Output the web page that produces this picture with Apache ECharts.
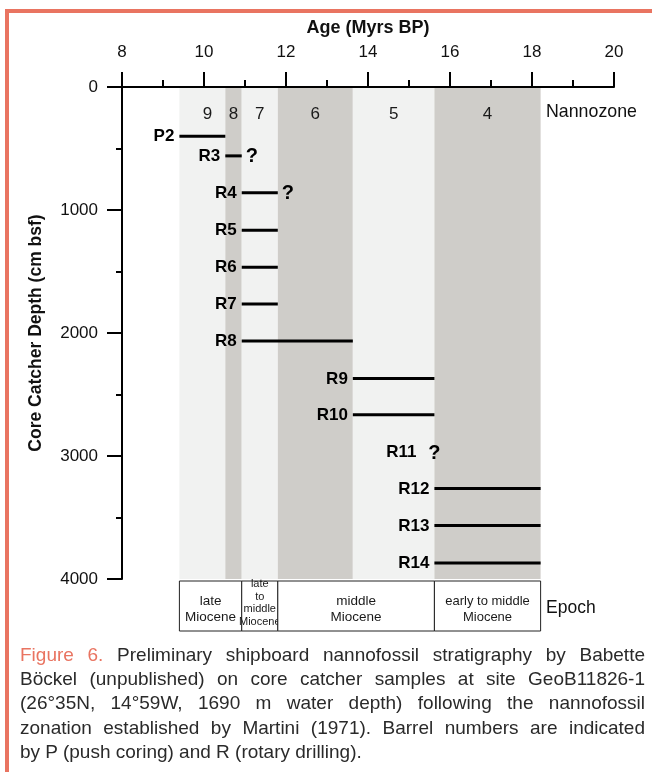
<!DOCTYPE html>
<html>
<head>
<meta charset="utf-8">
<script src="https://cdn.jsdelivr.net/npm/echarts@6/dist/echarts.min.js"></script>
<style>
  html, body { margin: 0; padding: 0; background: #fff; }
  #wrap { position: relative; width: 652px; height: 772px; overflow: hidden; }
  #frame { position: absolute; left: 5px; top: 9px; width: 700px; height: 800px;
           border-top: 4px solid #E97461; border-left: 4px solid #E97461; }
  #chart { position: absolute; left: 0; top: 0; width: 652px; height: 772px; }
  #cap { position: absolute; left: 20px; top: 643px; width: 625px;
         font: 19px "Liberation Sans", Arial, sans-serif; line-height: 24.2px; color: #2a2a2a; }
  #cap .ln { text-align: justify; text-align-last: justify; }
  #cap .fig { color: #E97461; }
</style>
</head>
<body>
<div id="wrap">
  <div id="frame"></div>
  <div id="chart"></div>
  <div id="cap">
    <div class="ln"><span class="fig">Figure 6.</span> Preliminary shipboard nannofossil stratigraphy by Babette</div>
    <div class="ln">Böckel (unpublished) on core catcher samples at site GeoB11826-1</div>
    <div class="ln">(26°35N, 14°59W, 1690 m water depth) following the nannofossil</div>
    <div class="ln">zonation established by Martini (1971). Barrel numbers are indicated</div>
    <div>by P (push coring) and R (rotary drilling).</div>
  </div>
</div>
<script>
// nannozones (Martini 1971), boundaries in Myrs BP
var zoneNames = ["9", "8", "7", "6", "5", "4"];
var zoneBounds = [9.4, 10.52, 10.92, 11.8, 13.63, 15.62, 18.21];

// epochs below the chart
var epochNames = ["late\nMiocene", "late\nto\nmiddle\nMiocene", "middle\nMiocene", "early to middle\nMiocene"];
var epochBounds = [9.4, 10.92, 11.8, 15.62, 18.21];

// core catcher samples
var samples = ["P2", "R3", "R4", "R5", "R6", "R7", "R8", "R9", "R10", "R11", "R12", "R13", "R14"];
var depths = [400, 560, 860, 1165, 1465, 1765, 2065, 2370, 2665, 2970, 3265, 3565, 3870];
var ageFrom = [9.4, 10.52, 10.92, 10.92, 10.92, 10.92, 10.92, 13.63, 13.63, 15.62, 15.62, 15.62, 15.62];
var ageTo = [10.52, 10.92, 11.8, 11.8, 11.8, 11.8, 13.63, 15.62, 15.62, 15.62, 18.21, 18.21, 18.21];
var uncertain = [false, true, true, false, false, false, false, false, false, true, false, false, false];

var FONT = '"Liberation Sans", Arial, sans-serif';
var LIGHT = "#F1F2F1", DARK = "#CFCDC9";

var myChart = echarts.init(document.getElementById("chart"));

var zoneData = zoneNames.map(function (n, i) { return [zoneBounds[i], zoneBounds[i + 1]]; });
var epochData = epochNames.map(function (n, i) { return [epochBounds[i], epochBounds[i + 1]]; });
var sampleData = samples.map(function (s, i) { return [ageFrom[i], ageTo[i], depths[i]]; });

myChart.setOption({
  animation: false,
  grid: [
    { left: 122, right: 38, top: 87, bottom: 193 },
    { left: 122, right: 38, top: 581, height: 50 }
  ],
  xAxis: [
    {
      type: "value",
      gridIndex: 0,
      position: "top",
      min: 8,
      max: 20,
      interval: 2,
      z: 10,
      name: "Age (Myrs BP)",
      nameLocation: "middle",
      nameGap: 50,
      nameTextStyle: { fontFamily: FONT, fontWeight: "bold", fontSize: 18, color: "#111" },
      axisLine: { show: true, lineStyle: { color: "#000", width: 2 } },
      axisTick: { show: true, length: 15, lineStyle: { color: "#000", width: 2 } },
      minorTick: { show: true, splitNumber: 2, length: 7, lineStyle: { color: "#000", width: 2 } },
      axisLabel: { fontFamily: FONT, fontSize: 17, color: "#111", margin: 26 },
      splitLine: { show: false }
    },
    { type: "value", gridIndex: 1, min: 8, max: 20, show: false }
  ],
  yAxis: [
    {
      type: "value",
      gridIndex: 0,
      inverse: true,
      min: 0,
      max: 4000,
      interval: 1000,
      z: 10,
      name: "Core Catcher Depth (cm bsf)",
      nameLocation: "middle",
      nameGap: 77,
      nameTextStyle: { fontFamily: FONT, fontWeight: "bold", fontSize: 17.5, color: "#111" },
      axisLine: { show: true, lineStyle: { color: "#000", width: 2 } },
      axisTick: { show: true, length: 15, lineStyle: { color: "#000", width: 2 } },
      minorTick: { show: true, splitNumber: 2, length: 6, lineStyle: { color: "#000", width: 2 } },
      axisLabel: { fontFamily: FONT, fontSize: 17, color: "#111", margin: 24,
        formatter: function (v) { return String(v); } },
      splitLine: { show: false }
    },
    { type: "value", gridIndex: 1, min: 0, max: 1, show: false }
  ],
  graphic: [
    { type: "text", left: 546, top: 103, style: { text: "Nannozone", fontFamily: FONT, fontSize: 17.8, fill: "#111" } },
    { type: "text", left: 546, top: 599, style: { text: "Epoch", fontFamily: FONT, fontSize: 17.5, fill: "#111" } }
  ],
  series: [
    {
      // nannozone bands
      type: "custom",
      xAxisIndex: 0,
      yAxisIndex: 0,
      z: 1,
      silent: true,
      encode: { x: [0, 1] },
      data: zoneData,
      renderItem: function (params, api) {
        var i = params.dataIndex;
        var a = api.coord([api.value(0), 0]);
        var b = api.coord([api.value(1), 4000]);
        var nudge = i === 0 ? 5 : 0;
        return {
          type: "group",
          children: [
            { type: "rect", shape: { x: a[0], y: a[1], width: b[0] - a[0], height: b[1] - a[1] },
              style: { fill: i % 2 === 0 ? LIGHT : DARK } },
            { type: "text", style: { text: zoneNames[i], x: (a[0] + b[0]) / 2 + nudge, y: a[1] + 27,
              align: "center", verticalAlign: "middle", fontFamily: FONT, fontSize: 17, fill: "#1a1a1a" } }
          ]
        };
      }
    },
    {
      // epoch boxes
      type: "custom",
      xAxisIndex: 1,
      yAxisIndex: 1,
      silent: true,
      encode: { x: [0, 1] },
      data: epochData,
      renderItem: function (params, api) {
        var i = params.dataIndex;
        var a = api.coord([api.value(0), 1]);
        var b = api.coord([api.value(1), 0]);
        var w = b[0] - a[0];
        var small = w < 45;
        var fs = small ? 11 : (w > 100 && w < 110 ? 13 : 13.5);
        return {
          type: "group",
          children: [
            { type: "rect", shape: { x: a[0], y: a[1], width: w, height: b[1] - a[1] },
              style: { fill: "#fff", stroke: "#222", lineWidth: 1 } },
            { type: "text", style: { text: epochNames[i], x: (a[0] + b[0]) / 2, y: (a[1] + b[1]) / 2 + (small ? -3 : 3),
              align: "center", verticalAlign: "middle", fontFamily: FONT, fontSize: fs,
              lineHeight: small ? 12.7 : 16, fill: "#1a1a1a" } }
          ]
        };
      }
    },
    {
      // sample age ranges
      type: "custom",
      xAxisIndex: 0,
      yAxisIndex: 0,
      z: 5,
      silent: true,
      clip: false,
      encode: { x: [0, 1], y: 2 },
      data: sampleData,
      renderItem: function (params, api) {
        var i = params.dataIndex;
        var p0 = api.coord([api.value(0), api.value(2)]);
        var p1 = api.coord([api.value(1), api.value(2)]);
        var hasLine = p1[0] - p0[0] > 1;
        var kids = [];
        if (hasLine) {
          kids.push({ type: "line", shape: { x1: p0[0], y1: p0[1], x2: p1[0], y2: p1[1] },
            style: { stroke: "#000", lineWidth: 3 } });
        }
        kids.push({ type: "text", style: { text: samples[i], x: p0[0] - (hasLine ? 5 : 18), y: p0[1] + 0.5,
          align: "right", verticalAlign: "middle", fontFamily: FONT, fontWeight: "bold", fontSize: 17, fill: "#000" } });
        if (uncertain[i]) {
          kids.push({ type: "text", style: { text: "?", x: hasLine ? p1[0] + 4 : p0[0], y: p0[1] + 1,
            align: hasLine ? "left" : "center", verticalAlign: "middle", fontFamily: FONT, fontWeight: "bold",
            fontSize: 20, fill: "#000" } });
        }
        return { type: "group", children: kids };
      }
    }
  ]
});
</script>
</body>
</html>
